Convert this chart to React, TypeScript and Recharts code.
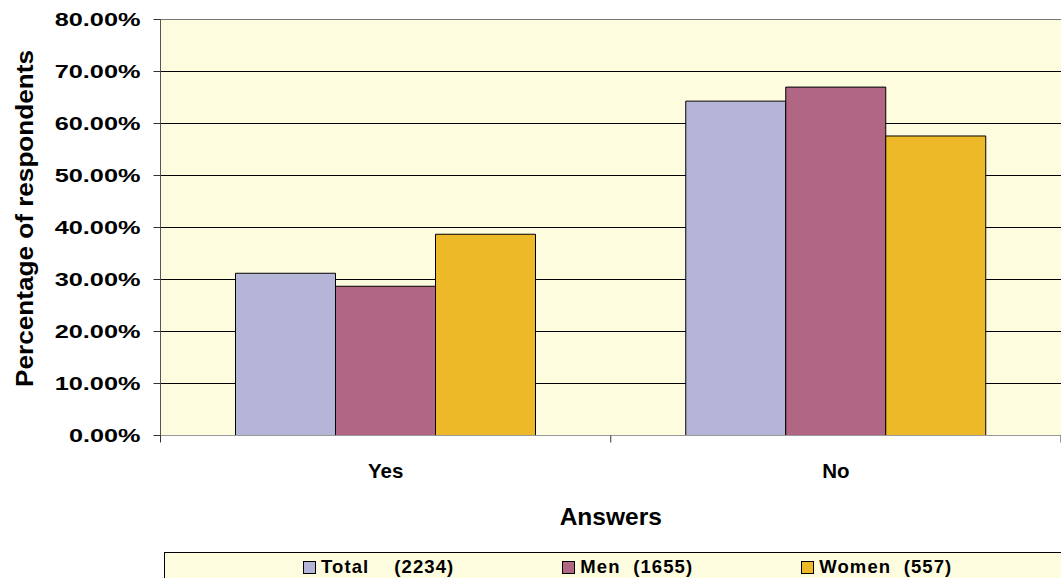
import React from "react";
import {
  BarChart,
  Bar,
  XAxis,
  YAxis,
  CartesianGrid,
  Legend,
  ReferenceLine,
} from "recharts";

// answers on the x axis
const answers = ["Yes", "No"];

// percentage of respondents per group
const totalPct = [31.2, 64.3];
const menPct = [28.7, 67.0];
const womenPct = [38.7, 57.6];

const seriesNames = ["Total    (2234)", "Men  (1655)", "Women  (557)"];
const seriesColors = ["#B5B5D7", "#B16684", "#EDB929"];

const yTicks = [0, 10, 20, 30, 40, 50, 60, 70, 80];

const data = answers.map((answer, i) => ({
  answer,
  total: totalPct[i],
  men: menPct[i],
  women: womenPct[i],
}));

const FONT = '"Liberation Sans", Arial, Helvetica, sans-serif';
const PLOT_BG = "#FEFCDF";

function YTick(props: any) {
  const { x, y, payload } = props;
  const label = Number(payload.value).toFixed(2) + "%";
  // excel draws these stretched; force the width per character
  return (
    <text
      x={x}
      y={y}
      dy="0.36em"
      textAnchor="end"
      fontFamily={FONT}
      fontWeight="bold"
      fontSize={18.5}
      textLength={label.length * 14.3}
      lengthAdjust="spacingAndGlyphs"
      fill="#000"
    >
      {label}
    </text>
  );
}

function AnswerTick(props: any) {
  const { x, y, payload, index, visibleTicksCount } = props;
  const half = payload && payload.offset ? payload.offset : 225;
  const last = index === (visibleTicksCount || answers.length) - 1;
  return (
    <g>
      <line x1={x - half} x2={x - half} y1={y - 7} y2={y} stroke="#333" />
      {last && (
        <line x1={x + half} x2={x + half} y1={y - 7} y2={y} stroke="#333" />
      )}
      <text
        x={x}
        y={y + 35.5}
        textAnchor="middle"
        fontFamily={FONT}
        fontWeight="bold"
        fontSize={20.5}
        fill="#000"
      >
        {payload.value}
      </text>
    </g>
  );
}

function XTitle(props: any) {
  const vb = props.viewBox || {};
  return (
    <text
      x={vb.x + vb.width / 2}
      y={vb.y + 89.5}
      textAnchor="middle"
      fontFamily={FONT}
      fontWeight="bold"
      fontSize={24.5}
      fill="#000"
    >
      Answers
    </text>
  );
}

function YTitle(props: any) {
  const vb = props.viewBox || {};
  const cx = 33;
  const cy = vb.y + vb.height / 2 - 9;
  return (
    <text
      x={cx}
      y={cy}
      transform={`rotate(-90, ${cx}, ${cy})`}
      textAnchor="middle"
      fontFamily={FONT}
      fontWeight="bold"
      fontSize={24.5}
      textLength={337}
      lengthAdjust="spacingAndGlyphs"
      fill="#000"
    >
      Percentage of respondents
    </text>
  );
}

function LegendBox(props: any) {
  const items = [...(props.payload || [])].sort(
    (a: any, b: any) => seriesNames.indexOf(a.value) - seriesNames.indexOf(b.value)
  );
  return (
    <div
      style={{
        width: 897,
        height: 26,
        boxSizing: "border-box",
        background: PLOT_BG,
        borderTop: "1px solid #000",
        borderLeft: "1px solid #000",
        display: "flex",
        alignItems: "center",
        paddingLeft: 138,
        paddingTop: 3,
        gap: 108,
        fontFamily: FONT,
        fontWeight: "bold",
        fontSize: 18.5,
        letterSpacing: "1.1px",
        color: "#000",
      }}
    >
      {items.map((it: any) => (
        <div key={it.value} style={{ display: "flex", alignItems: "center" }}>
          <span
            style={{
              width: 11,
              height: 11,
              background: it.color,
              border: "1px solid #000",
              display: "inline-block",
            }}
          />
          <span style={{ marginLeft: 5, whiteSpace: "pre" }}>{it.value}</span>
        </div>
      ))}
    </div>
  );
}

export default function App() {
  return (
    <div style={{ position: "absolute", left: 0, top: 0, background: "#fff" }}>
      <BarChart
        width={1061}
        height={578}
        data={data}
        margin={{ top: 19.5, right: 0, bottom: 82.5, left: 0.5 }}
        barGap={0}
      >
        <CartesianGrid vertical={false} stroke="#000" fill={PLOT_BG} fillOpacity={1} />
        <ReferenceLine y={80} stroke="#777" />
        <XAxis
          dataKey="answer"
          height={60}
          tickLine={false}
          tickSize={7}
          tickMargin={0}
          axisLine={{ stroke: "#999" }}
          tick={<AnswerTick />}
          label={<XTitle />}
        />
        <YAxis
          width={160}
          domain={[0, 80]}
          ticks={yTicks}
          interval={0}
          tickSize={7}
          tickMargin={13}
          axisLine={{ stroke: "#555" }}
          tickLine={{ stroke: "#333" }}
          tick={<YTick />}
          label={<YTitle />}
        />
        <Legend
          layout="horizontal"
          verticalAlign="middle"
          align="center"
          content={<LegendBox />}
          wrapperStyle={{ left: 164, top: 552, width: 897, height: 26 }}
        />
        <Bar dataKey="total" name={seriesNames[0]} fill={seriesColors[0]} stroke="#000" strokeWidth={1} barSize={100} isAnimationActive={false} />
        <Bar dataKey="men" name={seriesNames[1]} fill={seriesColors[1]} stroke="#000" strokeWidth={1} barSize={100} isAnimationActive={false} />
        <Bar dataKey="women" name={seriesNames[2]} fill={seriesColors[2]} stroke="#000" strokeWidth={1} barSize={100} isAnimationActive={false} />
      </BarChart>
    </div>
  );
}
